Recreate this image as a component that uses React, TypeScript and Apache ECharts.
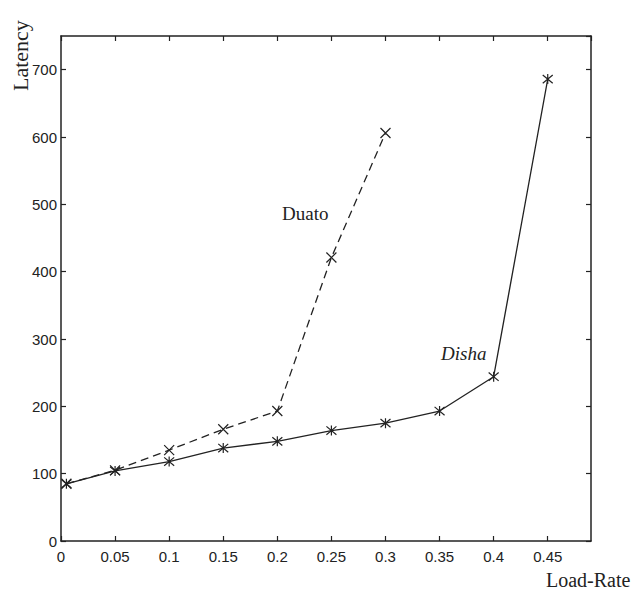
import React, { useEffect, useRef } from "react";
import * as echarts from "echarts";

const loadRates = [0.005, 0.05, 0.1, 0.15, 0.2, 0.25, 0.3, 0.35, 0.4, 0.45];
const dishaLatency = [85, 104, 118, 138, 148, 164, 175, 193, 244, 686];
const duatoRates = [0.005, 0.05, 0.1, 0.15, 0.2, 0.25, 0.3];
const duatoLatency = [85, 105, 135, 166, 193, 421, 606];

const tickFont = "'Liberation Sans', Arial, sans-serif";
const serif = "'Liberation Serif', 'DejaVu Serif', serif";

const starPath = "path://M0,0 L10,10 M10,0 L0,10 M5,-1 L5,11";
const crossPath = "path://M0,0 L10,10 M10,0 L0,10";

export default function App() {
  const ref = useRef<HTMLDivElement>(null);
  useEffect(() => {
    const chart = echarts.init(ref.current!, undefined, { renderer: "svg" });
    const axisLine = { show: true, onZero: false, lineStyle: { color: "#222", width: 1.5 } };
    const tick = { show: true, inside: true, length: 5, lineStyle: { color: "#222", width: 1.2 } };
    chart.setOption({
      animation: false,
      backgroundColor: "#fff",
      grid: { left: 61, right: 46, top: 36, bottom: 51, containLabel: false },
      xAxis: [
        {
          type: "value", min: 0, max: 0.49, interval: 0.05, position: "bottom",
          axisLine, axisTick: tick, splitLine: { show: false },
          axisLabel: { showMaxLabel: false, color: "#222", fontFamily: tickFont, fontSize: 15, margin: 8 },
        },
        {
          type: "value", min: 0, max: 0.49, interval: 0.05, position: "top",
          axisLine, axisTick: tick, splitLine: { show: false }, axisLabel: { show: false },
        },
      ],
      yAxis: [
        {
          type: "value", min: 0, max: 750, interval: 100, position: "left",
          axisLine, axisTick: tick, splitLine: { show: false },
          axisLabel: { showMaxLabel: false, color: "#222", fontFamily: tickFont, fontSize: 15, margin: 4 },
        },
        {
          type: "value", min: 0, max: 750, interval: 100, position: "right",
          axisLine, axisTick: tick, splitLine: { show: false }, axisLabel: { show: false },
        },
      ],
      series: [
        {
          name: "Disha", type: "line",
          data: loadRates.map((x, i) => [x, dishaLatency[i]]),
          symbol: starPath, symbolSize: 10, showAllSymbol: true,
          lineStyle: { color: "#222", width: 1.3, type: "solid" },
          itemStyle: { color: "transparent", borderColor: "#222", borderWidth: 1.2 },
        },
        {
          name: "Duato", type: "line",
          data: duatoRates.map((x, i) => [x, duatoLatency[i]]),
          symbol: crossPath, symbolSize: 10, showAllSymbol: true,
          lineStyle: { color: "#222", width: 1.3, type: [8, 5] },
          itemStyle: { color: "transparent", borderColor: "#222", borderWidth: 1.2 },
        },
      ],
      graphic: [
        { type: "text", x: 9, y: 91, rotation: Math.PI / 2, style: { text: "Latency", font: `22px ${serif}`, fill: "#222" } },
        { type: "text", x: 546, y: 570, style: { text: "Load-Rate", font: `20px ${serif}`, fill: "#222" } },
        { type: "text", x: 282, y: 204, style: { text: "Duato", font: `19px ${serif}`, fill: "#222" } },
        { type: "text", x: 441, y: 344, style: { text: "Disha", font: `italic 19px ${serif}`, fill: "#222" } },
      ],
    });
    return () => chart.dispose();
  }, []);
  return <div ref={ref} style={{ width: 637, height: 592, position: "absolute", left: 0, top: 0 }} />;
}
